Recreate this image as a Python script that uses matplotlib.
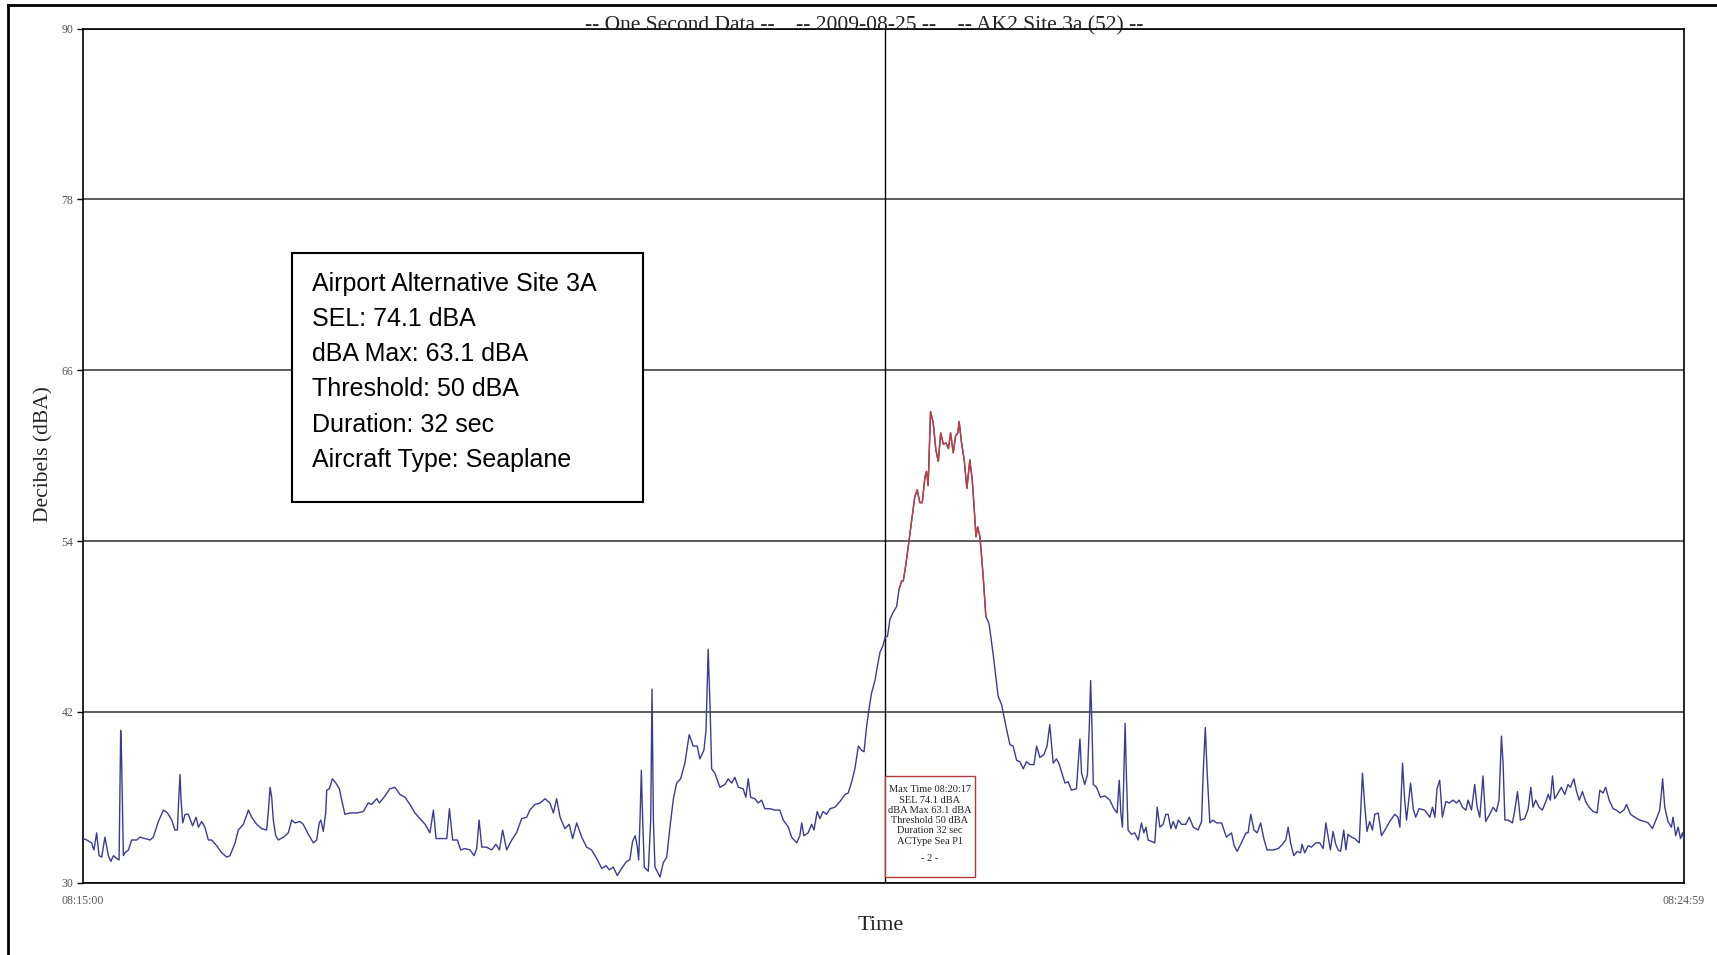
import matplotlib
matplotlib.use("Agg")
import matplotlib.pyplot as plt
from matplotlib.patches import Rectangle
from matplotlib.lines import Line2D
import numpy as np

# ---- data (seconds after 08:15:00, dBA) ----
seconds = [
    0.1, 1.4, 3.2, 4.1, 5.1, 6.0, 7.0, 8.2, 8.9, 9.5, 10.4, 11.4, 12.6, 13.5, 14.1, 14.4, 15.1, 15.7,
    17.0, 18.2, 20.1, 21.3, 23.2, 25.1, 26.3, 28.2, 30.1, 31.6, 33.2, 34.4, 35.3, 35.8, 36.3, 36.7,
    37.3, 38.2, 39.4, 41.0, 42.3, 43.2, 44.4, 45.6, 46.9, 48.1, 50.0, 51.9, 53.8, 55.0, 56.9, 58.1,
    60.0, 61.9, 63.1, 65.0, 66.8, 68.7, 69.3, 70.0, 70.6, 71.2, 72.1, 73.1, 75.0, 76.8, 78.1, 79.3,
    81.2, 82.4, 84.3, 86.2, 87.4, 88.4, 89.0, 89.9, 90.8, 91.2, 92.2, 93.3, 94.6, 95.9, 96.8, 98.0,
    99.9, 101.1, 102.4, 104.9, 106.7, 108.0, 109.9, 110.9, 113.0, 114.8, 116.7,
    118.6, 120.5, 122.3, 124.2, 126.1, 128.0, 129.8, 131.1, 132.1, 133.6, 136.1, 137.1, 138.3, 140.1,
    141.3, 142.9, 144.8, 146.3, 147.3, 148.2, 149.2, 151.0, 152.9, 154.5, 155.8, 157.0, 158.5, 160.4,
    162.2, 164.1, 166.0, 167.2, 169.1, 171.0, 172.9, 174.7, 176.0, 177.2, 178.5, 180.3, 181.9, 183.2,
    184.7, 186.6, 188.4, 190.3, 192.2, 194.1, 195.7, 196.9, 198.4, 199.9, 201.5, 203.4, 204.6, 205.6,
    206.6, 207.4, 207.9, 208.4, 208.9, 209.4, 210.0, 211.5, 212.4, 212.9, 213.4, 214.0, 215.9, 217.1,
    218.4, 219.6, 220.9, 222.1, 223.6, 225.2, 226.8, 228.3, 229.8, 230.8, 232.3, 233.1, 233.9, 234.6,
    235.2, 236.4,
    238.3, 240.2, 241.4, 242.7, 243.9, 245.2, 247.0, 248.0, 248.9, 249.8, 251.4, 252.6, 253.9, 255.1,
    257.0, 258.9, 260.7, 262.0, 263.9, 265.1, 267.0, 268.2, 268.9, 269.7, 271.3, 272.6, 273.5, 274.7,
    275.7, 276.9, 278.2, 279.5, 281.3, 283.2, 285.1, 286.3, 287.6, 288.8, 290.1, 291.3, 292.2, 293.2,
    294.0, 295.0, 296.3, 297.2, 298.2, 299.2, 300.2, 301.0, 301.9, 303.1, 304.4, 305.3, 306.3, 306.9,
    307.9, 309.1, 310.0, 311.2, 312.1, 313.1, 314.0, 315.0, 315.6, 316.2, 317.1, 318.1, 319.1, 320.0,
    320.9, 321.9, 322.9, 323.8, 324.6, 325.6, 326.5, 327.3, 327.8, 328.7, 329.7, 330.7, 331.8, 332.7,
    333.4, 334.1, 334.7, 335.6, 336.8, 337.8, 339.0, 340.5, 342.4, 343.7, 345.3, 346.8, 348.0, 349.3,
    350.5, 351.8, 353.0, 354.3, 355.8, 356.8,
    358.0, 359.5, 360.7, 361.7, 363.0, 364.2, 365.1, 366.1, 367.4, 368.6, 369.8, 371.7, 372.3, 373.0,
    373.6, 374.8, 375.8, 376.5, 377.0, 377.5, 378.0, 379.2, 380.7, 382.3, 384.2, 385.7, 386.9, 387.7,
    388.3, 388.9, 389.4, 389.9, 390.4, 391.0, 392.3, 393.5, 394.8, 396.0, 396.9, 397.7, 398.5, 399.8,
    401.0, 401.9, 402.9, 404.1, 405.1, 406.0, 407.0, 407.9, 408.9, 409.8, 411.0, 412.6, 413.9, 415.4,
    417.2, 418.5, 419.1, 419.9, 420.6, 421.6, 422.8, 424.1, 426.0, 427.8, 429.7, 430.7, 431.8, 433.4,
    435.1, 435.9, 436.9, 438.1, 439.3, 440.6, 441.8, 443.0, 445.3, 447.2, 448.8, 450.0, 450.9, 451.8,
    453.0, 454.3, 455.5, 456.1, 457.1, 458.4, 459.6, 461.3, 462.7, 464.0, 465.0, 465.9, 466.7, 467.7,
    468.7, 469.6, 470.5, 471.7, 472.5, 473.3, 474.6, 475.8, 477.5, 478.7,
    479.6, 480.4, 481.4, 482.4, 483.3, 484.6, 485.8, 487.1, 488.9, 490.8, 492.0, 492.7, 493.7, 494.5,
    495.2, 496.7, 497.7, 498.6, 499.9, 502.0, 503.9, 504.9, 505.8, 506.6, 507.6, 508.6, 509.9, 511.1,
    512.6, 513.9, 514.9, 516.1, 517.4, 518.2, 519.5, 520.7, 521.6, 522.6, 523.8, 524.8, 526.3, 527.6,
    528.8, 529.8, 530.7, 531.3, 532.0, 533.2, 534.8, 535.7, 536.7, 537.8, 539.4, 540.7, 541.7, 542.5,
    543.5, 544.8, 546.0, 547.3, 548.2, 549.0, 549.8, 550.6, 551.9, 553.1, 554.4, 555.6, 556.5, 557.8,
    558.8, 559.8, 561.0, 562.2, 563.5, 565.0, 566.5, 567.5, 568.7, 569.7, 571.0, 572.5, 573.7, 575.0,
    576.5, 577.5, 579.0, 580.6, 582.4, 584.3, 585.6, 587.2, 588.7, 589.9, 590.6, 591.0, 591.8, 593.0,
    594.3, 594.9, 595.9, 596.8, 597.7, 598.4, 598.9,
]

dba = [
    33.1, 33.0, 32.8, 32.3, 33.5, 31.9, 31.8, 33.2, 32.5, 31.9, 31.5, 31.9, 31.7, 31.6, 40.7, 39.1, 31.9, 32.1,
    32.3, 33.0, 33.0, 33.2, 33.1, 33.0, 33.2, 34.3, 35.1, 34.9, 34.4, 33.7, 33.7, 35.8, 37.6, 35.8,
    34.2, 34.8, 34.8, 34.0, 34.6, 33.9, 34.3, 33.9, 33.0, 33.0, 32.6, 32.1, 31.8, 31.9, 32.8, 33.7,
    34.1, 35.1, 34.6, 34.1, 33.8, 33.7, 34.9, 36.7, 36.0, 34.4, 33.3, 33.0, 33.2, 33.5, 34.4, 34.2,
    34.3, 34.1, 33.4, 32.8, 33.0, 34.2, 34.4, 33.6, 34.9, 36.5, 36.6, 37.3, 37.0, 36.6, 35.8, 34.8,
    34.9, 34.9, 34.9, 35.0, 35.6, 35.5, 35.9, 35.6, 36.1, 36.6, 36.7,
    36.2, 36.0, 35.5, 34.9, 34.5, 34.1, 33.5, 35.1, 33.1, 33.1, 33.1, 35.2, 33.0, 33.0,
    32.3, 32.4, 32.3, 31.9, 32.4, 34.4, 32.5, 32.5, 32.3, 32.7, 32.3, 33.7, 32.3, 33.0,
    33.5, 34.5, 34.6, 35.1, 35.5, 35.6, 35.9, 35.6, 34.9, 35.9, 34.6, 33.8, 34.1, 33.1,
    34.2, 33.2, 32.5, 32.3, 31.7, 31.0, 31.2, 30.9, 31.1, 30.5, 31.0, 31.5, 31.6, 32.9,
    33.3, 32.5, 31.6, 34.4, 37.9, 34.4, 31.1, 30.8, 34.4, 43.6, 34.4, 31.1, 30.4, 31.4,
    31.8, 33.9, 35.9, 37.0, 37.3, 38.4, 40.4, 39.6, 39.6, 38.7, 39.3, 40.7, 46.4, 42.4,
    38.0, 37.7,
    36.7, 36.9, 37.3, 37.0, 37.4, 36.7, 36.6, 36.0, 37.3, 36.0, 35.9, 35.6, 35.8, 35.2,
    35.2, 35.1, 35.1, 34.4, 33.9, 33.2, 32.8, 33.3, 34.2, 33.3, 33.5, 34.1, 33.7, 35.0,
    34.5, 35.0, 34.8, 35.2, 35.3, 35.7, 36.2, 36.3, 37.1, 38.0, 39.6, 39.3, 39.2, 41.0,
    42.1, 43.3, 44.2, 45.2, 46.2, 46.6, 47.3, 47.3, 48.5, 49.0, 49.4, 50.6, 51.2, 51.2,
    52.4, 54.1, 55.4, 57.1, 57.6, 56.7, 56.7, 58.5, 58.9, 57.9, 63.1, 62.3, 60.4, 59.6,
    61.6, 60.8, 60.9, 60.5, 61.6, 60.2, 61.4, 61.6, 62.4, 60.9, 59.7, 57.7, 59.7, 58.3,
    56.4, 54.3, 55.0, 54.3, 51.5, 48.7, 48.2, 46.1, 43.1, 42.5, 41.0, 39.7, 39.6, 38.6,
    38.5, 38.0, 38.5, 38.3, 38.3, 39.6,
    38.8, 39.0, 39.6, 41.1, 38.4, 38.7, 38.4, 37.8, 37.0, 37.1, 36.5, 36.6, 38.3, 40.1,
    37.7, 36.9, 37.6, 41.0, 44.2, 41.0, 36.9, 36.7, 36.0, 36.1, 35.8, 35.2, 34.9, 37.2,
    34.9, 33.9, 37.4, 41.2, 37.4, 33.7, 33.4, 33.5, 33.0, 34.2, 33.5, 33.9, 33.0, 32.9,
    32.8, 35.3, 33.9, 34.1, 34.8, 34.8, 33.8, 34.3, 33.8, 34.4, 34.1, 34.1, 34.6, 33.9,
    33.7, 34.3, 37.7, 40.9, 37.7, 34.2, 34.4, 34.2, 34.2, 33.2, 33.5, 32.6, 32.2, 32.8,
    33.5, 33.5, 34.8, 33.7, 33.5, 34.2, 33.1, 32.3, 32.3, 32.4, 32.7, 33.0, 33.9, 32.8,
    31.9, 32.2, 32.1, 32.7, 32.1, 32.6, 32.5, 32.8, 32.8, 32.4, 34.2, 33.2, 32.3, 33.6,
    32.7, 32.3, 32.2, 33.7, 32.3, 33.4, 33.2, 33.1, 32.8, 37.7,
    35.3, 33.6, 34.3, 33.7, 34.8, 34.9, 33.3, 33.7, 34.3, 34.8, 34.6, 33.9, 38.4, 35.8,
    34.4, 37.0, 35.2, 34.6, 35.2, 35.1, 34.6, 35.3, 34.6, 36.6, 37.2, 34.6, 35.7, 35.6,
    35.8, 35.6, 35.8, 35.3, 35.1, 35.8, 35.1, 36.9, 35.3, 34.6, 37.5, 34.3, 34.8, 35.3,
    35.0, 35.8, 40.3, 38.4, 34.4, 34.4, 34.2, 35.1, 36.4, 34.4, 34.5, 35.2, 36.7, 35.3,
    35.8, 35.3, 35.1, 35.7, 36.2, 35.8, 37.5, 35.9, 36.3, 36.7, 36.2, 36.9, 36.7, 37.3,
    36.4, 35.8, 36.4, 35.7, 35.3, 35.0, 34.9, 36.5, 36.3, 36.7, 35.8, 35.2, 35.1, 34.9,
    35.1, 35.5, 34.8, 34.6, 34.4, 34.3, 34.2, 33.8, 34.5, 35.1, 36.4, 37.3, 35.3, 34.3,
    33.9, 34.6, 33.3, 33.9, 33.1, 33.5, 33.1,
]

y_ticks = [30, 42, 54, 66, 78, 90]
x_tick_pos = [0, 599]
x_tick_labels = ['08:15:00', '08:24:59']
event_start, event_end = 305.3, 337.8   # part of the event above the 50 dBA threshold

info_lines = ['Airport Alternative Site 3A', 'SEL: 74.1 dBA', 'dBA Max: 63.1 dBA',
              'Threshold: 50 dBA', 'Duration: 32 sec', 'Aircraft Type: Seaplane']
event_lines = ['Max Time 08:20:17', 'SEL 74.1 dBA', 'dBA Max 63.1 dBA', 'Threshold 50 dBA',
               'Duration 32 sec', 'ACType Sea P1', '', '- 2 -']

serif = 'Liberation Serif'
sans = 'Liberation Sans'

t = np.array(seconds)
v = np.array(dba)
ev = (t >= event_start) & (t <= event_end)

fig = plt.figure(figsize=(17.17, 9.55), dpi=100)
ax = fig.add_axes([0.04834, 0.07571, 0.93244, 0.89424])

ax.plot(t, v, color='#3b3b92', lw=1.0, zorder=3)
ax.plot(t[ev], v[ev], color='#c43c3c', lw=1.0, zorder=4)
ax.axvline(300, color='black', lw=1.0, zorder=2)

ax.set_xlim(0, 599)
ax.set_ylim(30, 90)
ax.set_yticks(y_ticks)
ax.set_yticklabels([str(y) for y in y_ticks], fontfamily=serif, fontsize=8.5, color='#555555')
ax.set_xticks(x_tick_pos)
ax.set_xticklabels(x_tick_labels, fontfamily=serif, fontsize=8.5, color='#555555')
ax.tick_params(axis='y', direction='out', length=4, width=1, pad=3)
ax.tick_params(axis='x', length=0, pad=9)
ax.yaxis.grid(True, color='#404040', lw=1.2, zorder=1)
for s in ax.spines.values():
    s.set_color('black')
    s.set_linewidth(1.2)

# big info box
ax.add_patch(Rectangle((0.1304, 0.4461), 0.2194, 0.2916, transform=ax.transAxes,
                       facecolor='white', edgecolor='black', lw=1.5, zorder=5))
for i, line in enumerate(info_lines):
    ax.text(0.1429, 0.6934 - i * 0.04133, line, transform=ax.transAxes, fontfamily=sans,
            fontsize=18, va='baseline', ha='left', color='black', zorder=6)

# small event box
ax.add_patch(Rectangle((0.5011, 0.0067), 0.0562, 0.1182, transform=ax.transAxes,
                       facecolor='white', edgecolor='#b03a3a', lw=1.0, zorder=5))
ev_y = [0.1097, 0.0968, 0.0851, 0.0726, 0.0606, 0.0481, 0.0380, 0.0278]
for yy, line in zip(ev_y, event_lines):
    ax.text(0.529, yy, line, transform=ax.transAxes, fontfamily=serif, fontsize=7.5,
            ha='center', va='center', color='#222222', zorder=6)

fig.text(864 / 1717, 0.968, '-- One Second Data --    -- 2009-08-25 --    -- AK2 Site 3a (52) --',
         fontfamily=serif, fontsize=15.5, ha='center', va='baseline', color='#222222')
fig.text(44 / 1717, 0.5242, 'Decibels (dBA)', rotation=90, fontfamily=serif, fontsize=15.5,
         ha='center', va='center', color='#222222')
fig.text(881 / 1717, 1 - 925 / 955, 'Time', fontfamily=serif, fontsize=16,
         ha='center', va='center', color='#222222')

# page frame visible at top and left of the original scan
fig.add_artist(Line2D([8 / 1717, 8 / 1717], [0, 1 - 5 / 955], color='black', lw=2))
fig.add_artist(Line2D([8 / 1717, 1], [1 - 5 / 955, 1 - 5 / 955], color='black', lw=2))

fig.savefig('out.png', dpi=100)
